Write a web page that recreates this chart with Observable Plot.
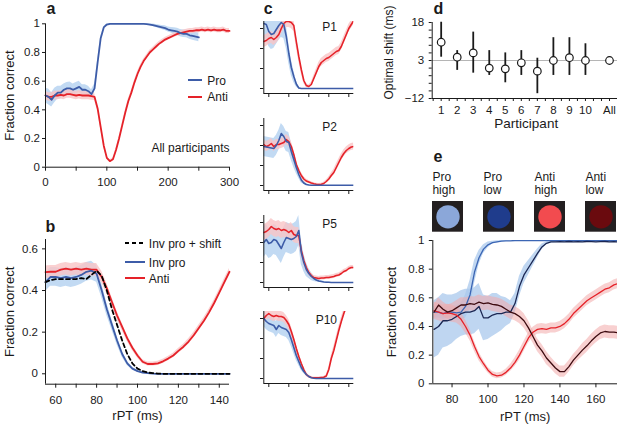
<!DOCTYPE html>
<html><head><meta charset="utf-8">
<script src="https://cdn.jsdelivr.net/npm/d3@7"></script>
<script src="https://cdn.jsdelivr.net/npm/@observablehq/plot@0.6"></script>
<style>
body{margin:0;background:#fff;}
#fig{position:relative;width:617px;height:424px;overflow:hidden;background:#fff;font-family:"Liberation Sans",Arial,sans-serif;}
</style></head><body><div id="fig"></div><script>
// ---------- data ----------
// panel a (rPT 0..300 ms)
const aT = [0,5,10,15,20,25,30,35,40,45,50,55,60,65,70,75,80,85,90,95,100,105,110,115,120,125,130,135,140,145,150,155,160,165,170,175,180,185,190,195,200,205,210,215,220,225,230,235,240,245,250,255,260,265,270,275,280,285,290,295,300];
const aPro = [.50,.49,.47,.50,.52,.52,.54,.55,.55,.54,.55,.56,.54,.54,.53,.51,.55,.73,.90,.975,.995,1,1,1,1,1,1,1,1,1,1,1,1,.998,.995,.99,.985,.98,.975,.97,.96,.955,.95,.945,.935,.93,.93,.92,.915,.91,.905];
const aProSe = [.05,.055,.05,.05,.045,.045,.04,.04,.045,.04,.04,.04,.035,.035,.035,.03,.03,.02,.01,.005,.003,.002,.002,.002,.002,.002,.002,.002,.002,.002,.002,.002,.002,.003,.005,.008,.01,.012,.014,.016,.018,.02,.022,.024,.025,.026,.027,.028,.029,.03,.03];
const aAnti = [.50,.49,.49,.50,.50,.505,.50,.51,.51,.505,.50,.505,.50,.50,.50,.495,.49,.41,.28,.15,.065,.042,.055,.12,.20,.29,.38,.46,.52,.59,.65,.70,.74,.77,.80,.82,.84,.86,.875,.89,.90,.91,.92,.93,.935,.94,.945,.95,.95,.955,.955,.96,.955,.96,.955,.96,.955,.955,.96,.95,.95];
const aAntiSe = [.03,.03,.03,.03,.03,.03,.03,.03,.03,.03,.03,.03,.03,.03,.03,.028,.025,.02,.015,.012,.01,.01,.01,.012,.013,.014,.015,.015,.015,.015,.015,.015,.015,.015,.015,.015,.015,.015,.015,.015,.015,.015,.015,.015,.016,.016,.017,.017,.018,.018,.018,.018,.018,.018,.018,.018,.018,.018,.018,.018,.018];
const aTicks = [0,50,100,150,200,250,300];

// panel b and c (rPT 55..145 ms)
const bT = [55,57.5,60,62.5,65,67.5,70,72.5,75,77.5,80,82.5,85,87.5,90,92.5,95,97.5,100,102.5,105,107.5,110,112.5,115,117.5,120,122.5,125,127.5,130,132.5,135,137.5,140,142.5,145];
const bPro = [.44,.465,.465,.46,.465,.46,.465,.475,.49,.495,.48,.40,.31,.235,.16,.095,.05,.025,.013,.006,.003,.001,0,0,0,0,0,0,0,0,0,0,0,0,0,0,0];
const bProSe = [.045,.045,.045,.045,.045,.045,.045,.045,.045,.045,.04,.035,.03,.025,.02,.015,.01,.007,.005,.003,.002,.001,0,0,0,0,0,0,0,0,0,0,0,0,0,0,0];
const bShift = [.44,.45,.455,.455,.455,.455,.455,.46,.455,.475,.495,.47,.40,.31,.235,.16,.095,.05,.025,.013,.006,.003,.001,0,0,0,0,0,0,0,0,0,0,0,0,0,0];
const bAnti = [.488,.49,.49,.50,.505,.50,.505,.50,.505,.50,.50,.465,.41,.345,.28,.225,.17,.125,.088,.058,.047,.047,.05,.06,.073,.088,.11,.13,.155,.185,.22,.255,.295,.34,.39,.44,.49];
const bAntiSe = [.03,.03,.03,.03,.03,.03,.03,.03,.03,.03,.03,.028,.025,.022,.02,.018,.015,.013,.012,.01,.01,.01,.01,.01,.01,.011,.012,.012,.013,.013,.014,.014,.015,.015,.015,.016,.016];
const bTicks = [60,70,80,90,100,110,120,130,140];

const c1Pro = [.65,.64,.57,.54,.55,.59,.63,.66,.64,.52,.35,.21,.12,.045,.005,0,0,0,0,0,0,0,0,0,0,0,0,0,0,0,0,0,0,0,0,0,0];
const c1ProSe = [.15,.15,.15,.15,.15,.15,.15,.15,.14,.12,.1,.08,.06,.03,.01,0,0,0,0,0,0,0,0,0,0,0,0,0,0,0,0,0,0,0,0,0,0];
const c1Anti = [.47,.48,.50,.51,.49,.51,.54,.60,.65,.67,.67,.66,.63,.47,.32,.19,.08,.03,.02,.04,.10,.16,.22,.26,.28,.30,.31,.33,.35,.37,.38,.42,.48,.54,.60,.64,.68];
const c1AntiSe = [.06,.06,.06,.06,.06,.06,.06,.06,.06,.06,.06,.06,.06,.06,.05,.04,.03,.02,.015,.02,.03,.035,.04,.04,.04,.04,.04,.04,.04,.04,.04,.04,.04,.04,.04,.04,.04];
const c2Pro = [.39,.385,.38,.375,.37,.40,.45,.52,.49,.44,.43,.34,.26,.18,.11,.055,.025,.01,.005,.003,.002,.002,.002,.002,.002,.002,.002,.002,.002,.002,.002,.002,.002,.002,.002,.002,.002];
const c2ProSe = [.1,.1,.1,.1,.1,.1,.1,.1,.1,.1,.1,.09,.08,.06,.04,.03,.015,.008,.004,.002,0,0,0,0,0,0,0,0,0,0,0,0,0,0,0,0,0];
const c2Anti = [.41,.39,.40,.42,.39,.41,.41,.42,.43,.46,.44,.39,.31,.21,.15,.10,.065,.045,.035,.025,.018,.012,.01,.012,.02,.04,.065,.10,.13,.18,.23,.28,.32,.35,.37,.385,.39];
const c2AntiSe = [.05,.05,.05,.05,.05,.05,.05,.05,.05,.05,.05,.05,.045,.04,.035,.03,.025,.02,.015,.012,.01,.01,.01,.01,.012,.015,.02,.025,.03,.035,.035,.035,.035,.035,.035,.035,.035];
const c5Pro = [.40,.43,.39,.40,.43,.42,.38,.34,.40,.45,.44,.43,.44,.46,.52,.30,.20,.13,.09,.06,.04,.025,.015,.01,.005,.003,.002,0,0,0,0,0,0,0,0,0,0];
const c5ProSe = [.15,.15,.15,.15,.15,.15,.15,.15,.15,.15,.15,.15,.15,.15,.15,.12,.09,.07,.05,.04,.03,.02,.015,.01,.008,.005,.003,0,0,0,0,0,0,0,0,0,0];
const c5Anti = [.50,.51,.53,.56,.54,.53,.54,.52,.53,.52,.50,.52,.48,.47,.47,.32,.22,.15,.10,.07,.05,.045,.04,.045,.045,.05,.05,.055,.06,.07,.075,.09,.11,.12,.14,.15,.15];
const c5AntiSe = [.08,.08,.08,.08,.08,.08,.08,.08,.08,.08,.08,.08,.08,.08,.08,.06,.05,.04,.03,.025,.02,.02,.02,.02,.02,.02,.02,.02,.02,.02,.02,.02,.02,.02,.02,.02,.02];
const c10Pro = [.60,.57,.55,.54,.53,.49,.53,.51,.50,.49,.46,.39,.31,.23,.17,.11,.07,.04,.02,.008,.003,0,0,0,0,0,0,0,0,0,0,0,0,0,0,0,0];
const c10ProSe = [.08,.08,.08,.08,.08,.08,.08,.08,.08,.08,.08,.07,.06,.05,.04,.03,.02,.015,.01,.005,.003,0,0,0,0,0,0,0,0,0,0,0,0,0,0,0,0];
const c10Anti = [.60,.63,.65,.63,.62,.63,.62,.62,.61,.58,.54,.47,.39,.30,.22,.15,.09,.04,.02,.01,.008,.008,.008,.01,.012,.025,.09,.20,.28,.38,.48,.57,.65,.72,.78,.84,.90];
const c10AntiSe = [.05,.05,.05,.05,.05,.05,.05,.05,.05,.05,.05,.05,.045,.04,.035,.03,.025,.02,.015,.01,.008,.008,.008,.008,.008,.01,.02,.03,.04,.04,.04,.04,.04,.04,.04,.04,.04];
const cNames = ["P1","P2","P5","P10"];
const cTicksX = [60,80,100,120,140];
const cTicksY = [0,.2,.4,.6];

// panel d
const dPart = ["1","2","3","4","5","6","7","8","9","10","All"];
const dShift = [10.2,4.3,6.0,0.0,-0.3,2.1,-1.2,3.0,4.1,3.0,3.0];
const dLo = [4.3,-0.9,-2.0,-2.9,-5.8,-2.9,-10.1,-2.9,-2.9,-2.9,1.4];
const dHi = [18.1,6.9,14.2,6.9,6.0,6.9,3.9,12.0,12.0,9.6,4.3];
const dTicks = [-12,-9,-6,-3,0,3,6,9,12,15,18];
const dTickLabels = [-12,3,18];
const dTicksX = [0.5,1,1.5,2,2.5,3,3.5,4,4.5,5,5.5,6,6.5,7,7.5,8,8.5,9,9.5,10,10.5,11,11.5];

// panel e
const eT = [70,72.5,75,77.5,80,82.5,85,87.5,90,92.5,95,97.5,100,102.5,105,107.5,110,112.5,115,117.5,120,122.5,125,127.5,130,132.5,135,137.5,140,142.5,145,147.5,150,152.5,155,157.5,160,162.5,165,167.5,170,172.5];
const eProHigh = [.50,.50,.49,.50,.50,.495,.50,.54,.62,.78,.88,.94,.97,.985,.99,.995,.997,.998,1,1,1,1,1,1,1,1,1,1,1,1,1,1,1,1,1,1,1,1,1,1,1,1];
const eProHighSe = [.04,.04,.04,.04,.04,.05,.06,.08,.1,.08,.05,.03,.02,.01,.008,.005,.004,.003,.002,.002,.002,.002,.002,.002,.002,.002,.002,.002,.002,.002,.002,.002,.002,.002,.002,.002,.002,.002,.002,.002,.002,.002];
const eProLow = [.38,.40,.44,.44,.45,.47,.49,.50,.50,.51,.54,.46,.46,.48,.49,.49,.50,.50,.56,.68,.76,.81,.86,.91,.955,.98,.99,.99,.992,.99,.993,.99,.992,.99,.993,.992,.99,.992,.993,.99,.992,.99];
const eProLowSe = [.2,.2,.19,.18,.17,.16,.16,.16,.16,.16,.16,.16,.15,.15,.14,.12,.1,.08,.07,.07,.06,.05,.04,.03,.02,.01,.008,.005,.005,.005,.005,.005,.005,.005,.005,.005,.005,.005,.005,.005,.005,.005];
const eAntiHigh = [.51,.50,.49,.495,.49,.48,.45,.40,.34,.26,.19,.14,.095,.065,.055,.06,.08,.11,.15,.20,.26,.32,.36,.38,.385,.38,.39,.39,.40,.42,.45,.49,.52,.55,.58,.60,.62,.64,.66,.67,.69,.70];
const eAntiHighSe = [.06,.06,.06,.06,.06,.055,.05,.045,.04,.035,.03,.025,.02,.02,.02,.02,.022,.025,.03,.035,.035,.035,.035,.035,.035,.035,.035,.035,.035,.035,.035,.035,.035,.035,.035,.035,.035,.035,.035,.035,.035,.035];
const eAntiLow = [.50,.55,.52,.50,.51,.53,.55,.55,.56,.555,.57,.56,.565,.555,.55,.54,.52,.50,.49,.47,.44,.39,.33,.27,.23,.18,.145,.11,.085,.085,.12,.165,.20,.235,.265,.30,.33,.355,.365,.36,.36,.355];
const eAntiLowSe = [.05,.05,.05,.05,.05,.05,.05,.05,.05,.05,.05,.05,.05,.05,.05,.05,.05,.05,.05,.05,.05,.05,.045,.045,.045,.045,.04,.04,.04,.04,.04,.04,.04,.045,.045,.045,.045,.045,.045,.045,.045,.045];
const eTicksX = [80,100,120,140,160];
const fracTicks = [0,.2,.4,.6,.8,1];
const swNames = ["Pro high","Pro low","Anti high","Anti low"];
const swColors = ["#8ba7d9","#1f3c8c","#f24b4f","#6a0a0e"];

// ---------- styles ----------
const FONT = '"Liberation Sans", Arial, Helvetica, sans-serif';
const INK = "#1a1a1a";
const BLUE = "#3d5ca8", RED = "#e52229", BLUE_BAND = "#b7d3f1", RED_BAND = "#f9c4c5";
const E_PH = "#3c66b4", E_PL = "#1b2753", E_AH = "#e52229", E_AL = "#3d0b10";
const E_BLUE_BAND = "#a9c8ec", E_RED_BAND = "#f3a9aa";
const fig = document.getElementById("fig");
function put(el, left, top) { el.style.position = "absolute"; el.style.left = left + "px"; el.style.top = top + "px"; fig.appendChild(el); }
function styleBase(fs) { return {background: "transparent", fontFamily: FONT, fontSize: fs + "px", color: INK, overflow: "visible", maxWidth: "none"}; }
function rows(t, v, se) { return v.map((y, i) => ({x: t[i], y, lo: y - se[i], hi: y + se[i]})); }
function label(text, o) { return Plot.text([text], {text: d => d, lineAnchor: "bottom", fill: INK, ...o}); }
function ylab(text, dx, fs, dy = 0) { return Plot.text([text], {text: d => d, frameAnchor: "left", textAnchor: "middle", rotate: -90, lineAnchor: "middle", dx, dy, fontSize: fs, fill: INK}); }
function letter(t, dx, dy) { return label(t, {frameAnchor: "top-left", textAnchor: "start", dx, dy, fontSize: 16, fontWeight: "bold"}); }
function swatch(x1, x2, y, color, dash) {
  const d = document.createElement("div");
  d.style.cssText = `position:absolute;left:${x1}px;top:${y - 1.2}px;width:${x2 - x1}px;height:2.4px;background:${dash ? `repeating-linear-gradient(90deg, ${color} 0 4px, transparent 4px 7px)` : color}`;
  fig.appendChild(d);
}
const fmt = d => String(d);

// ---------- panel a ----------
const aProRows = rows(aT, aPro, aProSe), aAntiRows = rows(aT, aAnti, aAntiSe);
put(Plot.plot({
  width: 245, height: 205, marginLeft: 45, marginRight: 16, marginTop: 23.3, marginBottom: 38.3,
  style: styleBase(11.5),
  x: {domain: [0, 300], ticks: aTicks, tickFormat: d => d % 100 ? "" : fmt(d), tickSize: 4, tickPadding: 6.5, label: null},
  y: {domain: [0, 1], ticks: fracTicks, tickFormat: fmt, tickSize: 3, tickPadding: 2.5, label: null},
  marks: [
    Plot.areaY(aProRows, {x: "x", y1: "lo", y2: "hi", fill: BLUE_BAND, fillOpacity: 0.85}),
    Plot.areaY(aAntiRows, {x: "x", y1: "lo", y2: "hi", fill: RED_BAND, fillOpacity: 0.8}),
    Plot.line(aAntiRows, {x: "x", y: "y", stroke: RED, strokeWidth: 1.8}),
    Plot.line(aProRows, {x: "x", y: "y", stroke: BLUE, strokeWidth: 1.8}),
    Plot.ruleX([0], {stroke: INK}), Plot.ruleY([0], {stroke: INK}),
    letter("a", 1, -9.8),
    ylab("Fraction correct", -36, 13),
    label("All participants", {frameAnchor: "bottom-right", textAnchor: "end", dy: -15, fontSize: 12}),
    label("Pro", {frameAnchor: "top-left", textAnchor: "start", dx: 161.7, dy: 60.7, fontSize: 12}),
    label("Anti", {frameAnchor: "top-left", textAnchor: "start", dx: 161.7, dy: 77.4, fontSize: 12})
  ]
}), 0, 0);

// ---------- panel b ----------
const bProRows = rows(bT, bPro, bProSe), bAntiRows = rows(bT, bAnti, bAntiSe);
const bShiftRows = rows(bT, bShift, bT.map(() => 0));
put(Plot.plot({
  width: 245, height: 209, marginLeft: 45, marginRight: 16, marginTop: 24, marginBottom: 40.3,
  style: styleBase(11.5),
  x: {domain: [55, 145], ticks: bTicks, tickFormat: d => d % 20 ? "" : fmt(d), tickSize: 4, tickPadding: 7.5, label: null},
  y: {domain: [-0.05, 0.645], ticks: [0, .2, .4, .6], tickFormat: fmt, tickSize: 3, tickPadding: 4.5, label: null},
  marks: [
    Plot.areaY(bProRows, {x: "x", y1: "lo", y2: "hi", fill: BLUE_BAND, fillOpacity: 0.85}),
    Plot.areaY(bAntiRows, {x: "x", y1: "lo", y2: "hi", fill: RED_BAND, fillOpacity: 0.8}),
    Plot.line(bAntiRows, {x: "x", y: "y", stroke: RED, strokeWidth: 1.8}),
    Plot.line(bProRows, {x: "x", y: "y", stroke: BLUE, strokeWidth: 1.8}),
    Plot.line(bShiftRows, {x: "x", y: "y", stroke: "#000", strokeWidth: 1.8, strokeDasharray: "4,3"}),
    Plot.ruleX([55], {stroke: INK}), Plot.ruleY([-0.05], {stroke: INK}),
    letter("b", 0, -7.5),
    ylab("Fraction correct", -36, 13),
    label("rPT (ms)", {frameAnchor: "bottom", textAnchor: "middle", dy: 35.8, fontSize: 13}),
    label("Inv pro + shift", {frameAnchor: "top-left", textAnchor: "start", dx: 103.3, dy: 8.8, fontSize: 12}),
    label("Inv pro", {frameAnchor: "top-left", textAnchor: "start", dx: 103.3, dy: 27, fontSize: 12}),
    label("Anti", {frameAnchor: "top-left", textAnchor: "start", dx: 103.3, dy: 43.7, fontSize: 12})
  ]
}), 0, 215);

// ---------- panel c ----------
const cSeries = [[c1Pro, c1ProSe, c1Anti, c1AntiSe], [c2Pro, c2ProSe, c2Anti, c2AntiSe], [c5Pro, c5ProSe, c5Anti, c5AntiSe], [c10Pro, c10ProSe, c10Anti, c10AntiSe]];
const cZero = [88.3, 184.7, 281.5, 378.3];
cSeries.forEach((s, k) => {
  const pro = rows(bT, s[0], s[1]), anti = rows(bT, s[2], s[3]);
  put(Plot.plot({
    width: 110, height: 106, marginLeft: 13.3, marginRight: 6.7, marginTop: 22, marginBottom: 12,
    style: styleBase(11.5),
    x: {domain: [55, 145], ticks: cTicksX, tickFormat: () => "", tickSize: 4, label: null},
    y: {domain: [-0.05, 0.67], ticks: cTicksY, tickFormat: () => "", tickSize: 3.3, label: null},
    marks: [
      Plot.areaY(pro, {x: "x", y1: "lo", y2: "hi", fill: BLUE_BAND, fillOpacity: 0.85, clip: true}),
      Plot.areaY(anti, {x: "x", y1: "lo", y2: "hi", fill: RED_BAND, fillOpacity: 0.8, clip: true}),
      Plot.line(anti, {x: "x", y: "y", stroke: RED, strokeWidth: 1.6, clip: true}),
      Plot.line(pro, {x: "x", y: "y", stroke: BLUE, strokeWidth: 1.6, clip: true}),
      Plot.ruleX([55], {stroke: INK}), Plot.ruleY([-0.05], {stroke: INK}),
      label(cNames[k], {frameAnchor: "top-left", textAnchor: "end", dx: 73.2, dy: k === 0 ? 9 : 12, fontSize: 12}),
      ...(k === 0 ? [letter("c", 0, -7.3)] : [])
    ]
  }), 250, cZero[k] - 67 - 22);
});

// ---------- panel d ----------
const dPos = dPart.map((p, i) => p === "All" ? 11.5 : i + 1);
const dRows = dPart.map((p, i) => ({pos: dPos[i], m: dShift[i], lo: dLo[i], hi: dHi[i]}));
put(Plot.plot({
  width: 242, height: 135, marginLeft: 56.7, marginRight: 0, marginTop: 22, marginBottom: 37,
  style: styleBase(11.5),
  x: {domain: [0.44, 12], ticks: dTicksX, tickFormat: d => dPos.includes(d) ? dPart[dPos.indexOf(d)] : "", tickSize: 3, tickPadding: 4, label: null},
  y: {domain: [-12, 18], ticks: dTicks, tickFormat: d => dTickLabels.includes(d) ? (d < 0 ? "\u2212" + (-d) : fmt(d)) : "", tickSize: 3, tickPadding: 5, label: null},
  marks: [
    Plot.ruleY([dShift[dPart.indexOf("All")]], {stroke: "#b5b5b5", strokeWidth: 1}),
    Plot.ruleX(dRows, {x: "pos", y1: "lo", y2: "hi", stroke: INK, strokeWidth: 1.8}),
    Plot.dot(dRows, {x: "pos", y: "m", r: 3.8, stroke: INK, fill: "white", strokeWidth: 1.2}),
    Plot.ruleX([0.44], {stroke: INK}), Plot.ruleY([-12], {stroke: INK}),
    letter("d", 1.3, -8.3),
    ylab("Optimal shift (ms)", -42.7, 12, -8),
    label("Participant", {frameAnchor: "bottom", textAnchor: "middle", dx: 1.4, dy: 29.6, fontSize: 13.5})
  ]
}), 375, 0);

// ---------- panel e: swatches ----------
put(Plot.plot({
  width: 192, height: 90, marginLeft: 7.3, marginRight: 0.3, marginTop: 56, marginBottom: 3.3,
  style: styleBase(12),
  x: {type: "band", domain: swNames, paddingInner: 0.39, paddingOuter: 0, align: 0, axis: null},
  marks: [
    Plot.cell(swNames, {x: d => d, fill: "#231f20"}),
    Plot.dot(swNames, {x: d => d, frameAnchor: "middle", r: 11.7, fill: (d, i) => swColors[i]}),
    Plot.text(swNames, {x: d => d, text: d => d.replace(" ", "\n"), frameAnchor: "top", lineAnchor: "bottom", textAnchor: "start", dx: -15.6, dy: -7.7, lineHeight: 1.08, fontSize: 12, fill: INK}),
    letter("e", 0.7, -39.3)
  ]
}), 425, 145);

// ---------- panel e: curves ----------
const ePH = rows(eT, eProHigh, eProHighSe), ePL = rows(eT, eProLow, eProLowSe);
const eAH = rows(eT, eAntiHigh, eAntiHighSe), eAL = rows(eT, eAntiLow, eAntiLowSe);
put(Plot.plot({
  width: 242, height: 189, marginLeft: 57.3, marginRight: 0, marginTop: 5, marginBottom: 40.7,
  style: styleBase(11.5),
  x: {domain: [69.3, 172], ticks: eTicksX, tickFormat: fmt, tickSize: 4, tickPadding: 7.5, label: null},
  y: {domain: [0, 1], ticks: fracTicks, tickFormat: fmt, tickSize: 3.5, tickPadding: 5, label: null},
  marks: [
    Plot.areaY(ePL, {x: "x", y1: "lo", y2: "hi", fill: E_BLUE_BAND, fillOpacity: 0.75, clip: true}),
    Plot.areaY(ePH, {x: "x", y1: "lo", y2: "hi", fill: E_BLUE_BAND, fillOpacity: 0.75, clip: true}),
    Plot.areaY(eAH, {x: "x", y1: "lo", y2: "hi", fill: E_RED_BAND, fillOpacity: 0.55, clip: true}),
    Plot.areaY(eAL, {x: "x", y1: "lo", y2: "hi", fill: E_RED_BAND, fillOpacity: 0.55, clip: true}),
    Plot.line(ePH, {x: "x", y: "y", stroke: E_PH, strokeWidth: 1.3, clip: true}),
    Plot.line(ePL, {x: "x", y: "y", stroke: E_PL, strokeWidth: 1.3, clip: true}),
    Plot.line(eAH, {x: "x", y: "y", stroke: E_AH, strokeWidth: 1.3, clip: true}),
    Plot.line(eAL, {x: "x", y: "y", stroke: E_AL, strokeWidth: 1.3, clip: true}),
    Plot.ruleX([69.3], {stroke: INK}), Plot.ruleY([0], {stroke: INK}),
    ylab("Fraction correct", -40.6, 13),
    label("rPT (ms)", {frameAnchor: "bottom", textAnchor: "middle", dy: 37.2, fontSize: 13})
  ]
}), 375, 235);

// ---------- legend line swatches ----------
swatch(188.3, 201.7, 80, BLUE);
swatch(188.3, 201.7, 96.7, RED);
swatch(125, 145, 243.3, "#000", true);
swatch(125, 145, 261.7, BLUE);
swatch(125, 145, 278.3, RED);
</script></body></html>
